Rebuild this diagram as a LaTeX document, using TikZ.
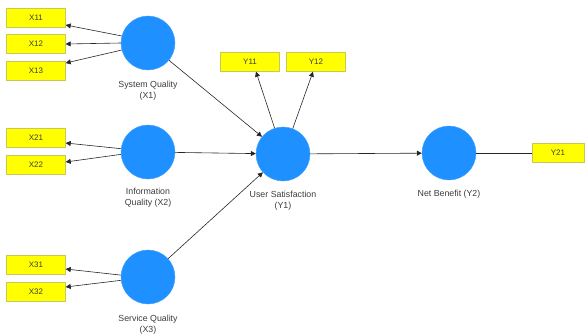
\documentclass[tikz,border=0pt]{standalone}
\usepackage{fontspec}
\setmainfont{Liberation Sans}
\usepackage{tikz}
\usetikzlibrary{positioning}
\usetikzlibrary{arrows.meta}
\definecolor{lvblue}{RGB}{30,144,255}
\definecolor{boxyellow}{RGB}{255,255,0}
\definecolor{boxedge}{RGB}{200,200,90}
\definecolor{nametext}{RGB}{60,60,60}

\begin{document}
\begin{tikzpicture}[x=1pt,y=-1pt,
      latent/.style={circle,fill=lvblue,draw=lvblue!85!white,minimum size=54pt,inner sep=0pt},
      indicator/.style={rectangle,fill=boxyellow,draw=boxedge,minimum width=59pt,minimum height=19pt,inner sep=0pt,font=\fontsize{8}{9}\selectfont,text=nametext},
      lvname/.style={align=center,inner sep=0pt,font=\fontsize{8.8}{11}\selectfont,text=nametext},
      link/.style={-{Triangle[length=5pt,width=5pt]},line width=0.6pt,black!85},
    ]
        \useasboundingbox (0,0) rectangle (586,335);

        \node[latent] (sq) at (148,43) {};
        \node[latent] (iq) at (148,152) {};
        \node[latent] (sv) at (148,277) {};
        \node[latent] (us) at (283,154) {};
        \node[latent] (nb) at (449,153) {};

        \node[lvname,below=11pt of sq] (sqname) {System Quality\\(X1)};
        \node[lvname,below=9pt of iq] (iqname) {Information\\Quality (X2)};
        \node[lvname,below=11pt of sv] (svname) {Service Quality\\(X3)};
        \node[lvname,below=10pt of us] (usname) {User Satisfaction\\(Y1)};
        \node[lvname,below=10pt of nb] (nbname) {Net Benefit (Y2)};

        \node[indicator] (x11) at (36,18) {X11};
        \node[indicator] (x12) at (36,44) {X12};
        \node[indicator] (x13) at (36,71) {X13};
        \node[indicator] (x21) at (36,138) {X21};
        \node[indicator] (x22) at (36,165) {X22};
        \node[indicator] (x31) at (36,265) {X31};
        \node[indicator] (x32) at (36,292) {X32};
        \node[indicator] (y11) at (250,62) {Y11};
        \node[indicator] (y12) at (316,62) {Y12};
        \node[indicator,minimum width=52pt] (y21) at (558,153) {Y21};

        \draw[link] (sq.165) -- ([yshift=-7pt]x11.east);
        \draw[link] (sq.180) -- (x12.east);
        \draw[link] (sq.195) -- ([yshift=8pt]x13.east);
        \draw[link] (iq.173) -- ([yshift=-5pt]x21.east);
        \draw[link] (iq.185) -- ([yshift=3pt]x22.east);
        \draw[link] (sv.176) -- ([yshift=-4pt]x31.east);
        \draw[link] (sv.187) -- ([yshift=5pt]x32.east);

        \draw[link] (sq) -- (us);
        \draw[link] (iq) -- (us);
        \draw[link] (sv) -- (us);
        \draw[link] (us.108) -- ([xshift=6pt]y11.south);
        \draw[link] (us.69) -- ([xshift=-3pt]y12.south);
        \draw[link] (us) -- (nb);
        \draw[line width=0.6pt,black!85] (nb) -- (y21);
    \end{tikzpicture}
\end{document}
